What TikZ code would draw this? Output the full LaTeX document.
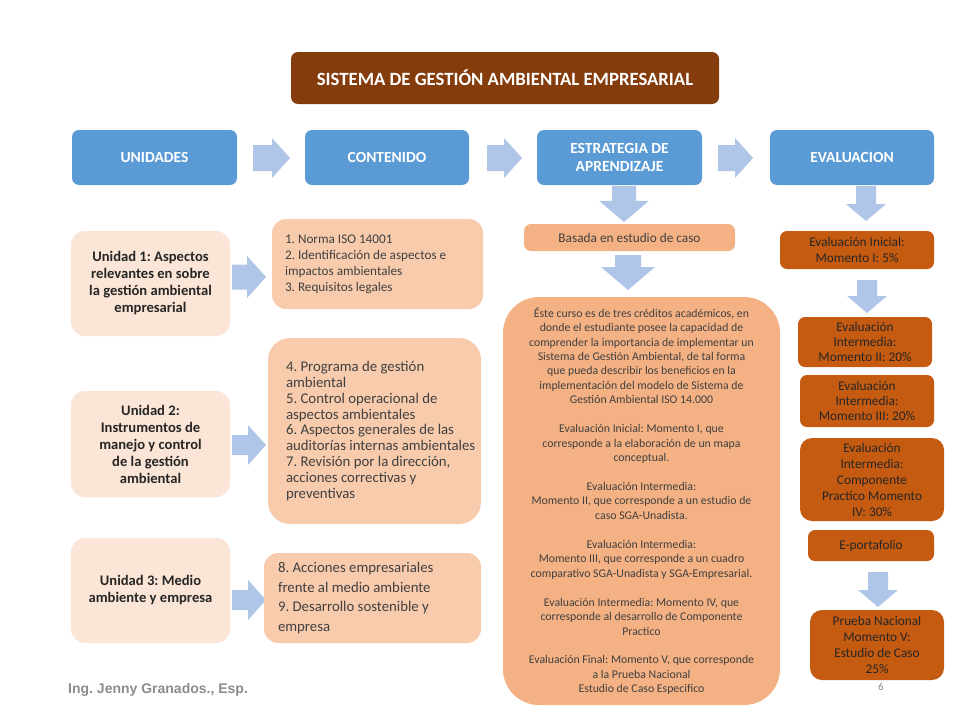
\documentclass[tikz,border=0pt]{standalone}
\usepackage{fontspec}
\setmainfont{Carlito}
\newfontfamily\footfont{Liberation Sans}
\definecolor{titlebrown}{HTML}{843C0C}
\definecolor{hdrblue}{HTML}{5B9BD5}
\definecolor{arrblue}{HTML}{B0C6E8}
\definecolor{unitfill}{HTML}{FBE5D6}
\definecolor{contfill}{HTML}{F8CBAD}
\definecolor{stratfill}{HTML}{F4B183}
\definecolor{evalfill}{HTML}{C55A11}
\definecolor{txtdark}{HTML}{262626}
\definecolor{txtgray}{HTML}{404040}
\newcommand{\rarr}[5]{% tail x, centre y, tip x, head half, shaft half
  \fill[arrblue] (#1,#2-#5) -- ({#3-#4*0.9},#2-#5) -- ({#3-#4*0.9},#2-#4) -- (#3,#2) -- ({#3-#4*0.9},#2+#4) -- ({#3-#4*0.9},#2+#5) -- (#1,#2+#5) -- cycle;}
\newcommand{\darr}[5]{% centre x, tail y, tip y, head half, shaft half
  \fill[arrblue] (#1-#5,#2) -- (#1-#5,{#3-#4*0.85}) -- (#1-#4,{#3-#4*0.85}) -- (#1,#3) -- (#1+#4,{#3-#4*0.85}) -- (#1+#5,{#3-#4*0.85}) -- (#1+#5,#2) -- cycle;}
\begin{document}
\frenchspacing
\begin{tikzpicture}[x=1pt,y=-1pt,
  box/.style={rounded corners=7pt, inner sep=0pt, align=center},
  hdr/.style={box, fill=hdrblue, text=white, font=\fontsize{15.5}{18}\selectfont\bfseries, minimum height=55pt},
  unit/.style={box, fill=unitfill, rounded corners=14pt, text=txtdark, font=\fontsize{14.6}{17}\selectfont\bfseries, minimum width=159pt},
  cont/.style={box, fill=contfill, rounded corners=14pt},
  conttext/.style={anchor=west, inner sep=0pt, align=left, text=txtgray},
  evalb/.style={box, fill=evalfill, text=txtdark, font=\fontsize{13.3}{16}\selectfont},
]
\useasboundingbox (0,0) rectangle (960,720);
\fill[white] (0,0) rectangle (960,720);

% title
\node[box, fill=titlebrown, text=white, minimum width=428pt, minimum height=52pt,
  font=\fontsize{18.7}{22}\selectfont\bfseries] (title) at (505,78) {SISTEMA DE GESTIÓN AMBIENTAL EMPRESARIAL};

% header row
\node[hdr, minimum width=165pt] (h1) at (154.5,157.5) {UNIDADES};
\node[hdr, minimum width=164pt] (h2) at (387,157.5) {CONTENIDO};
\node[hdr, minimum width=165pt] (h3) at (619.5,157.5) {ESTRATEGIA DE\\APRENDIZAJE};
\node[hdr, minimum width=164pt] (h4) at (852,157.5) {EVALUACION};

\rarr{253}{158}{290}{20}{13}
\rarr{487}{158}{522}{20}{13}
\rarr{718}{158}{753}{20}{13}

% units
\node[unit, minimum height=105pt] (u1) at (150.5,283.5) {Unidad 1: Aspectos\\relevantes en sobre\\la gestión ambiental\\empresarial};
\node[unit, minimum height=106pt] (u2) at (150.5,444) {Unidad 2:\\Instrumentos de\\manejo y control\\de la gestión\\ambiental};
\node[unit, minimum height=105pt] (u3) at (150.5,590.5) {Unidad 3: Medio\\ambiente y empresa};

\rarr{232}{277}{266}{21}{12.5}
\rarr{232}{445}{266}{20}{10}
\rarr{232}{600}{266}{20}{10}

% contents
\node[cont, minimum width=211pt, minimum height=90pt] (c1) at (377.5,264) {};
\node[conttext, font=\fontsize{13.2}{16}\selectfont] (c1t) at ([xshift=13pt]c1.west)
  {1. Norma ISO 14001\\2. Identificación de aspectos e\\impactos ambientales\\3. Requisitos legales};
\node[cont, rounded corners=22pt, minimum width=213pt, minimum height=186pt] (c2) at (374.5,431) {};
\node[conttext, font=\fontsize{14.8}{15.8}\selectfont] (c2t) at ([xshift=18pt]c2.west)
  {4. Programa de gestión\\ambiental\\5. Control operacional de\\aspectos ambientales\\6. Aspectos generales de las\\auditorías internas ambientales\\7. Revisión por la dirección,\\acciones correctivas y\\preventivas};
\node[cont, minimum width=217pt, minimum height=90pt] (c3) at (372.5,598) {};
\node[conttext, font=\fontsize{14.8}{19.7}\selectfont] (c3t) at ([xshift=14pt]c3.west)
  {8. Acciones empresariales\\frente al medio ambiente\\9. Desarrollo sostenible y\\empresa};

% strategy column
\darr{624}{186}{222}{25}{12}
\node[box, fill=stratfill, text=txtgray, minimum width=211pt, minimum height=27pt,
  font=\fontsize{13.3}{15}\selectfont] (basada) at (629.5,237.5) {Basada en estudio de caso};
\darr{628}{255}{290}{27}{13}
\node[box, fill=stratfill, rounded corners=36pt, text=txtgray, minimum width=277pt, minimum height=408pt,
  font=\fontsize{11.8}{14.45}\selectfont] (big) at (641.5,501)
  {Éste curso es de tres créditos académicos, en\\donde el estudiante posee la capacidad de\\comprender la importancia de implementar un\\Sistema de Gestión Ambiental, de tal forma\\que pueda describir los beneficios en la\\implementación del modelo de Sistema de\\Gestión Ambiental ISO 14.000\\[14.45pt]
  Evaluación Inicial: Momento I, que\\corresponde a la elaboración de un mapa\\conceptual.\\[14.45pt]
  Evaluación Intermedia:\\Momento II, que corresponde a un estudio de\\caso SGA-Unadista.\\[14.45pt]
  Evaluación Intermedia:\\Momento III, que corresponde a un cuadro\\comparativo SGA-Unadista y SGA-Empresarial.\\[14.45pt]
  Evaluación Intermedia: Momento IV, que\\corresponde al desarrollo de Componente\\Practico\\[14.45pt]
  Evaluación Final: Momento V, que corresponde\\a la Prueba Nacional\\Estudio de Caso Especifico};

% evaluation column
\darr{866}{186}{221}{20}{10}
\node[evalb, minimum width=154pt, minimum height=38pt] (e1) at (857,250) {Evaluación Inicial:\\Momento I: 5\%};
\darr{867}{280}{313}{20}{10}
\node[evalb, minimum width=134pt, minimum height=50pt, font=\fontsize{13.3}{15.3}\selectfont] (e2) at (865,342) {Evaluación\\Intermedia:\\Momento II: 20\%};
\node[evalb, minimum width=134pt, minimum height=52pt, font=\fontsize{13.3}{15.3}\selectfont] (e3) at (867,401) {Evaluación\\Intermedia:\\Momento III: 20\%};
\node[evalb, rounded corners=12pt, minimum width=144pt, minimum height=83pt] (e4) at (872,479.5) {Evaluación\\Intermedia:\\Componente\\Practico Momento\\IV: 30\%};
\node[evalb, minimum width=126pt, minimum height=31pt] (e5) at (871,545.5) {E-portafolio};
\darr{878}{572}{607}{20}{10}
\node[evalb, rounded corners=12pt, minimum width=134pt, minimum height=70pt] (e6) at (877,645) {Prueba Nacional\\Momento V:\\Estudio de Caso\\25\%};

% footer
\node[anchor=west, text=black!45, font=\footfont\bfseries\fontsize{14}{16}\selectfont, inner sep=0pt] (foot) at (68,690) {Ing. Jenny Granados., Esp.};
\node[text=black!45, font=\fontsize{11}{12}\selectfont, inner sep=0pt] (pg) at (881,687) {6};
\end{tikzpicture}
\end{document}
